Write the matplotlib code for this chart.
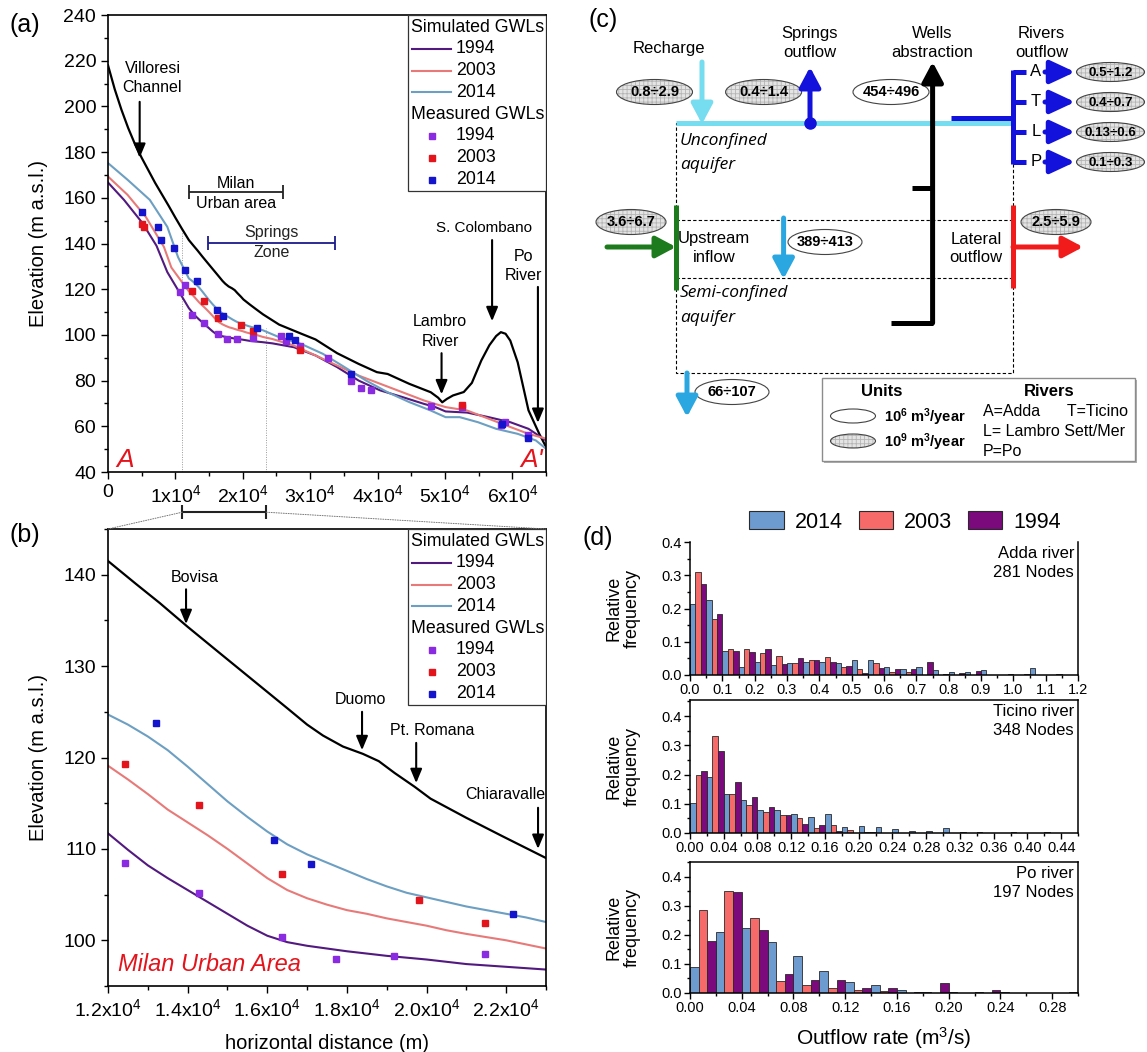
import numpy as np
import matplotlib
matplotlib.use('Agg')
import matplotlib.pyplot as plt
from matplotlib.patches import Ellipse, Rectangle, Patch, ConnectionPatch
from matplotlib.ticker import MultipleLocator, FuncFormatter, FormatStrFormatter

plt.rcParams['font.family'] = ['Liberation Sans', 'DejaVu Sans']
plt.rcParams['mathtext.fontset'] = 'custom'
plt.rcParams['mathtext.rm'] = 'Liberation Sans'
plt.rcParams['mathtext.bf'] = 'Liberation Sans:bold'
plt.rcParams['mathtext.it'] = 'Liberation Sans:italic'
plt.rcParams['mathtext.default'] = 'regular'
plt.rcParams['hatch.linewidth'] = 0.6

W, H = 1147, 1052

# ---------------- cross section A-A' (x in 1e3 m, elevation m a.s.l.)
years = ['1994', '2003', '2014']

ground_x = [0, 1, 2, 3, 4, 5, 6, 7, 8, 9, 10, 11, 12.0, 12.7, 13.3, 14.0, 14.7, 15.6, 16.5, 17.0,
            17.4, 17.9, 18.4, 18.8, 19.2, 19.7, 20.1, 21.0, 21.9, 23.0, 25.4, 28.7, 30.8, 34.0,
            37.2, 39.9, 41.5, 44.7, 47.9, 49.0, 49.6, 50.3, 51.2, 52.8, 54.0, 55.4, 56.6, 57.6,
            58.3, 59.0, 59.7, 60.8, 62.4, 64.0, 65.0]
ground_y = [218, 207.5, 198.5, 190.5, 183.5, 177.5, 172, 166.5, 161.5, 156.5, 151.3, 146.3, 141.5,
            139.0, 136.9, 134.3, 131.8, 128.6, 125.4, 123.6, 122.4, 121.2, 120.4, 119.6, 118.3,
            116.8, 115.5, 113.4, 111.4, 109.0, 104.5, 100.5, 98.0, 92.0, 87.3, 83.7, 82.9, 78.6,
            74.9, 72.5, 70.5, 72.0, 73.5, 75.0, 79.0, 88.8, 95.5, 99.5, 101.2, 100.5, 97.5, 88.0,
            67.0, 56.7, 51.0]

sim94_x = [0, 2.4, 5.1, 7.2, 8.8, 10.4, 12.0, 12.5, 13.0, 13.5, 14.0, 14.5, 15.0, 15.5, 16.0,
           16.5, 17.0, 18.0, 19.0, 20.0, 21.0, 22.0, 23.0, 24.4, 27.6, 30.8, 34.0, 37.2, 40.4,
           43.7, 46.9, 48.5, 50.1, 53.3, 56.5, 59.7, 62.4, 65.0]
sim94_y = [166.7, 159.0, 149.0, 139.0, 127.5, 119.6, 111.7, 109.9, 108.2, 106.8, 105.5, 104.2,
           102.9, 101.6, 100.5, 99.8, 99.4, 98.8, 98.3, 97.9, 97.4, 97.1, 96.8, 96.3, 94.6, 91.0,
           85.9, 80.0, 75.7, 72.8, 69.8, 68.5, 66.5, 66.0, 64.0, 61.8, 58.9, 53.8]

sim03_x = [0, 2.9, 5.6, 8.3, 9.4, 11.5, 12.0, 12.5, 13.0, 13.5, 14.0, 14.5, 15.0, 15.5, 16.0,
           16.5, 17.0, 17.5, 18.0, 18.5, 19.0, 19.5, 20.0, 20.5, 21.0, 22.0, 23.0, 24.4, 27.6,
           30.8, 34.0, 37.2, 40.4, 43.7, 46.9, 50.1, 53.3, 56.5, 59.7, 62.4, 65.0]
sim03_y = [169.3, 161.3, 151.7, 138.5, 129.5, 121.0, 119.1, 117.6, 116.0, 114.3, 112.9, 111.5,
           110.0, 108.4, 106.8, 105.5, 104.6, 103.9, 103.3, 102.9, 102.4, 102.0, 101.6, 101.1,
           100.7, 100.0, 99.1, 98.2, 95.3, 91.0, 86.6, 82.2, 78.6, 74.9, 71.3, 68.4, 66.9, 63.3,
           59.7, 56.7, 54.6]

sim14_x = [0, 2.9, 6.2, 8.8, 10.4, 12.0, 12.5, 13.0, 13.5, 14.0, 14.5, 15.0, 15.5, 16.0, 16.5,
           17.0, 17.5, 18.0, 18.5, 19.0, 19.5, 20.0, 20.5, 21.0, 21.5, 22.0, 22.5, 23.0, 25.4,
           28.7, 31.9, 35.1, 38.3, 41.5, 44.7, 47.9, 50.1, 52.2, 54.9, 57.6, 60.8, 63.5, 65.0]
sim14_y = [175.2, 167.9, 159.1, 147.3, 134.0, 124.7, 123.6, 122.3, 120.8, 119.0, 117.1, 115.2,
           113.5, 111.9, 110.5, 109.4, 108.5, 107.6, 106.7, 105.9, 105.2, 104.7, 104.2, 103.7,
           103.3, 102.9, 102.5, 102.0, 99.0, 96.0, 91.7, 85.9, 80.0, 74.9, 70.6, 66.9, 64.0,
           64.0, 61.8, 58.9, 56.7, 53.8, 50.2]

meas94_x = [10.7, 11.5, 12.43, 14.28, 16.36, 17.72, 19.18, 21.46, 25.7, 26.4, 28.5, 32.7, 36.0,
            37.5, 39.0, 47.9, 52.5, 58.3, 58.9, 62.3]
meas94_y = [118.6, 122.0, 108.5, 105.2, 100.4, 98.0, 98.3, 98.5, 99.7, 97.5, 95.3, 89.9, 80.0,
            76.8, 76.1, 69.1, 68.5, 60.5, 61.8, 56.0]
meas03_x = [5.0, 5.4, 12.43, 14.28, 16.36, 19.8, 21.46, 28.5, 52.5]
meas03_y = [148.5, 147.3, 119.3, 114.8, 107.3, 104.4, 101.9, 93.6, 69.3]
meas14_x = [5.0, 7.4, 7.9, 9.8, 11.4, 13.2, 16.18, 17.1, 22.18, 26.9, 27.7, 36.0, 58.5, 62.4]
meas14_y = [153.6, 147.3, 141.6, 138.2, 128.5, 123.8, 111.0, 108.3, 102.9, 99.4, 97.8, 82.7,
            61.0, 54.8]

sim_x = [sim94_x, sim03_x, sim14_x]
sim_y = [sim94_y, sim03_y, sim14_y]
meas_x = [meas94_x, meas03_x, meas14_x]
meas_y = [meas94_y, meas03_y, meas14_y]
sim_colors = ['#52197f', '#e77a78', '#6d9fc2']
meas_colors = ['#8a2be2', '#e3141b', '#1414cc']

# ---------------- water budget (c)
budget_10e9 = {'recharge': '0.8÷2.9', 'springs': '0.4÷1.4', 'upstream': '3.6÷6.7',
               'lateral': '2.5÷5.9'}
budget_10e6 = {'wells': '454÷496', 'leakage': '389÷413', 'bottom': '66÷107'}
river_codes = ['A', 'T', 'L', 'P']
river_out = ['0.5÷1.2', '0.4÷0.7', '0.13÷0.6', '0.1÷0.3']

# ---------------- histograms (d): relative frequency, bars 2014 / 2003 / 1994
hist_years = ['2014', '2003', '1994']
hist_colors = ['#6d9bd0', '#f76a6a', '#7b0a7c']
adda_bin = 0.05
adda_2014 = [0.215, 0.226, 0.071, 0.025, 0.038, 0.030, 0.035, 0.038, 0.038, 0.035, 0.044, 0.044,
             0.024, 0.019, 0.024, 0.014, 0.010, 0.010, 0.014, 0, 0, 0.020, 0, 0]
adda_2003 = [0.309, 0.167, 0.078, 0.078, 0.065, 0.058, 0.037, 0.044, 0.054, 0.024, 0.017, 0.037,
             0.010, 0.010, 0, 0, 0, 0, 0, 0, 0, 0, 0, 0]
adda_1994 = [0.273, 0.184, 0.073, 0.068, 0.078, 0.032, 0.052, 0.044, 0.038, 0.028, 0.005, 0.022,
             0.017, 0.017, 0.038, 0.004, 0.005, 0.011, 0, 0.002, 0.002, 0, 0.002, 0]
ticino_bin = 0.02
ticino_2014 = [0.103, 0.190, 0.135, 0.112, 0.080, 0.077, 0.065, 0.056, 0.065, 0.019, 0.025, 0.020,
               0.012, 0.008, 0.008, 0.016, 0.003, 0.003, 0, 0.003, 0, 0.003, 0]
ticino_2003 = [0.198, 0.333, 0.135, 0.097, 0.072, 0.063, 0.050, 0.017, 0.026, 0.011, 0.004, 0,
               0, 0, 0, 0, 0, 0, 0, 0, 0, 0, 0]
ticino_1994 = [0.211, 0.280, 0.175, 0.122, 0.089, 0.060, 0.032, 0.026, 0.006, 0, 0.004, 0,
               0, 0, 0, 0, 0, 0, 0, 0, 0, 0, 0]
po_bin = 0.02
po_2014 = [0.089, 0.210, 0.225, 0.176, 0.126, 0.077, 0.039, 0.026, 0.010, 0.005, 0.005, 0.005,
           0.005, 0, 0]
po_2003 = [0.286, 0.350, 0.258, 0.040, 0.027, 0.016, 0.012, 0.006, 0, 0, 0, 0, 0, 0, 0]
po_1994 = [0.178, 0.347, 0.218, 0.065, 0.045, 0.045, 0.018, 0.018, 0.005, 0.034, 0, 0.012, 0, 0,
           0.005]

fig = plt.figure(figsize=(W / 100, H / 100), dpi=100)
ov = fig.add_axes([0, 0, 1, 1])
ov.set_xlim(0, W)
ov.set_ylim(H, 0)
ov.axis('off')


def px_axes(l, t, r, b):
    return fig.add_axes([l / W, 1 - b / H, (r - l) / W, (b - t) / H])


def style_ticks(ax, size):
    ax.tick_params(which='major', direction='out', length=5, width=1, labelsize=size)
    ax.tick_params(which='minor', direction='out', length=3, width=1)
    for s in ax.spines.values():
        s.set_linewidth(1.2)


def draw_section(ax):
    ax.plot(np.array(ground_x) * 1e3, ground_y, color='k', lw=1.6)
    for xs, ys, c in zip(sim_x, sim_y, sim_colors):
        ax.plot(np.array(xs) * 1e3, ys, color=c, lw=1.5)
    for xs, ys, c in zip(meas_x, meas_y, meas_colors):
        ax.plot(np.array(xs) * 1e3, ys, 's', color=c, ms=4.5, ls='none', zorder=4)


def gwl_legend(ax):
    ax.add_patch(Rectangle((0.684, 0.614), 0.316, 0.386, transform=ax.transAxes, fc='white',
                           ec='#333333', lw=0.9, zorder=5))
    rows = [0.972, 0.926, 0.878, 0.831, 0.783, 0.736, 0.688, 0.640]
    ax.text(0.692, rows[0], 'Simulated GWLs', transform=ax.transAxes, va='center', fontsize=12.8, zorder=6)
    ax.text(0.692, rows[4], 'Measured GWLs', transform=ax.transAxes, va='center', fontsize=12.8, zorder=6)
    for r, lab, c in zip(rows[1:4], years, sim_colors):
        ax.plot([0.694, 0.784], [r, r], transform=ax.transAxes, color=c, lw=1.5, zorder=6)
        ax.text(0.794, r, lab, transform=ax.transAxes, va='center', fontsize=12.8, zorder=6)
    for r, lab, c in zip(rows[5:], years, meas_colors):
        ax.plot([0.740], [r], 's', transform=ax.transAxes, color=c, ms=4.5, zorder=6)
        ax.text(0.794, r, lab, transform=ax.transAxes, va='center', fontsize=12.8, zorder=6)


def down_arrow(ax, x, y0, y1, lw=1.5):
    ax.annotate('', xy=(x, y1), xytext=(x, y0),
                arrowprops=dict(arrowstyle='-|>,head_length=0.6,head_width=0.25', color='k', lw=lw,
                                mutation_scale=14, shrinkA=0, shrinkB=0))


# ================= (a)
ax_a = px_axes(108, 15, 546, 472)
draw_section(ax_a)
ax_a.set_xlim(0, 6.5e4)
ax_a.set_ylim(40, 240)
ax_a.xaxis.set_major_locator(MultipleLocator(1e4))
ax_a.xaxis.set_minor_locator(MultipleLocator(5e3))
ax_a.yaxis.set_major_locator(MultipleLocator(20))
ax_a.yaxis.set_minor_locator(MultipleLocator(10))
ax_a.xaxis.set_major_formatter(FuncFormatter(
    lambda v, p: '0' if v == 0 else r'$\mathdefault{%dx10^{4}}$' % round(v / 1e4)))
style_ticks(ax_a, 14)
ax_a.set_ylabel('Elevation (m a.s.l.)', fontsize=14.5, labelpad=11)
gwl_legend(ax_a)
for xv, ytop in [(11.0e3, 145), (23.5e3, 103)]:
    ax_a.plot([xv, xv], [40, ytop], color='#999999', lw=0.7, ls=(0, (1, 1.5)), zorder=1)

ax_a.text(6.6e3, 212.5, 'Villoresi\nChannel', ha='center', va='center', fontsize=11.5, linespacing=1.3)
down_arrow(ax_a, 4.7e3, 202, 177.5)
ax_a.text(19.0e3, 162, 'Milan\nUrban area', ha='center', va='center', fontsize=11.5, linespacing=1.45)
ax_a.errorbar(19.0e3, 162.7, xerr=7.0e3, color='#222222', lw=1.3, capsize=5, capthick=1.3)
ax_a.text(24.3e3, 140.5, 'Springs\nZone', ha='center', va='center', fontsize=11.5, linespacing=1.45,
          color='#222222')
ax_a.errorbar(24.3e3, 140.3, xerr=9.4e3, color='#1a1a8c', lw=1.3, capsize=5, capthick=1.3)
ax_a.text(55.8e3, 147, 'S. Colombano', ha='center', va='center', fontsize=11)
down_arrow(ax_a, 57.0e3, 141.5, 106)
ax_a.text(61.6e3, 130, 'Po\nRiver', ha='center', va='center', fontsize=11.5, linespacing=1.35)
down_arrow(ax_a, 63.8e3, 121, 61.5)
ax_a.text(49.3e3, 101.5, 'Lambro\nRiver', ha='center', va='center', fontsize=11.5, linespacing=1.35)
down_arrow(ax_a, 49.5e3, 92, 74)
ax_a.text(1.2e3, 42, 'A', color='#e3141b', fontsize=19, style='italic', ha='left', va='baseline')
ax_a.text(64.6e3, 42, "A'", color='#e3141b', fontsize=19, style='italic', ha='right', va='baseline')

# zoom bracket under (a)
ax_a.errorbar(17.25e3, -0.088, xerr=6.25e3, transform=ax_a.get_xaxis_transform(), color='#222222',
              lw=1.5, capsize=5, capthick=1.5, clip_on=False)

# ================= (b)
ax_b = px_axes(108, 529, 546, 986)
draw_section(ax_b)
ax_b.set_xlim(1.2e4, 2.3e4)
ax_b.set_ylim(95, 145)
ax_b.xaxis.set_major_locator(MultipleLocator(2e3))
ax_b.xaxis.set_minor_locator(MultipleLocator(1e3))
ax_b.yaxis.set_major_locator(MultipleLocator(10))
ax_b.yaxis.set_minor_locator(MultipleLocator(5))
ax_b.xaxis.set_major_formatter(FuncFormatter(lambda v, p: r'$\mathdefault{%.1fx10^{4}}$' % (v / 1e4)))
style_ticks(ax_b, 14)
ax_b.set_ylabel('Elevation (m a.s.l.)', fontsize=14.5, labelpad=11)
ax_b.set_xlabel('horizontal distance (m)', fontsize=14.5, labelpad=10)
gwl_legend(ax_b)
ax_b.text(14.17e3, 139.7, 'Bovisa', ha='center', va='center', fontsize=11.5)
down_arrow(ax_b, 13.96e3, 138.4, 134.6)
ax_b.text(18.33e3, 126.3, 'Duomo', ha='center', va='center', fontsize=11.5)
down_arrow(ax_b, 18.38e3, 125.0, 120.8)
ax_b.text(20.13e3, 122.9, 'Pt. Romana', ha='center', va='center', fontsize=11.5)
down_arrow(ax_b, 19.74e3, 121.6, 117.2)
ax_b.text(21.98e3, 116.0, 'Chiaravalle', ha='center', va='center', fontsize=11.5)
down_arrow(ax_b, 22.8e3, 114.5, 110.0)
ax_b.text(12.25e3, 97.3, 'Milan Urban Area', color='#e3141b', fontsize=17, style='italic',
          ha='left', va='center')

for xa, xb in [(11.0e3, 0.0), (23.5e3, 1.0)]:
    con = ConnectionPatch(xyA=(xa, -0.088), coordsA=ax_a.get_xaxis_transform(),
                          xyB=(xb, 1.0), coordsB=ax_b.transAxes, color='#777777', lw=0.7,
                          ls=(0, (1, 1.5)))
    fig.add_artist(con)

# ================= (c) flow diagram, drawn on the overlay in pixel space
CY, BL, LB, GR, RD = '#76dcef', '#1212dc', '#2aa7e0', '#1d7a1d', '#f21b1b'


def arr(x0, y0, x1, y1, c, lw=3.6, ms=20, hl=0.6, hw=0.32):
    ov.annotate('', xy=(x1, y1), xytext=(x0, y0),
                arrowprops=dict(arrowstyle='-|>,head_length=%g,head_width=%g' % (hl, hw), color=c,
                                lw=lw, mutation_scale=ms, shrinkA=0, shrinkB=0))


def oval(x, y, txt, gray, w=76, h=25, fs=10.5):
    if gray:
        ov.add_patch(Ellipse((x, y), w, h, fc='#e4e4e4', ec='#b5b5b5', lw=0, hatch='++++'))
        ov.add_patch(Ellipse((x, y), w, h, fill=False, ec='#444444', lw=0.8))
    else:
        ov.add_patch(Ellipse((x, y), w, h, fc='white', ec='#444444', lw=0.8))
    if txt:
        ov.text(x, y + 0.5, txt, ha='center', va='center', fontsize=fs, fontweight='bold')


DASH = (0, (3, 2))
ov.plot([676, 1013], [123, 123], color=CY, lw=3.6, solid_capstyle='butt')
ov.add_patch(Rectangle((676, 123), 337, 250, fill=False, ec='k', lw=0.8, ls=DASH))
for yy in (220, 278):
    ov.plot([676, 1013], [yy, yy], color='k', lw=0.8, ls=DASH)

ov.text(603, 20, '(c)', fontsize=18, ha='center', va='center')
ov.text(669, 49, 'Recharge', fontsize=12, ha='center', va='center')
arr(702, 62, 702, 124, CY)
oval(654.5, 92, budget_10e9['recharge'], True)

ov.text(810, 43, 'Springs\noutflow', fontsize=12, ha='center', va='center', linespacing=1.3)
arr(810, 123, 810, 67, BL)
ov.plot([810], [123], 'o', color=BL, ms=8)
oval(763.6, 92, budget_10e9['springs'], True)

ov.text(932.6, 43, 'Wells\nabstraction', fontsize=12, ha='center', va='center', linespacing=1.3)
arr(932.6, 323, 932.6, 62, 'k')
ov.plot([891, 932.6], [323, 323], color='k', lw=3.6, solid_capstyle='butt')
ov.plot([912, 932.6], [188, 188], color='k', lw=3.6, solid_capstyle='butt')
oval(891, 92, budget_10e6['wells'], False)

ov.text(1041.6, 43, 'Rivers\noutflow', fontsize=12, ha='center', va='center', linespacing=1.3)
ov.plot([951, 1013], [118, 118], color=BL, lw=3.6, solid_capstyle='butt')
ov.plot([1013, 1013], [70, 164], color=BL, lw=3.6, solid_capstyle='butt')
for code, val, yy in zip(river_codes, river_out, [72, 102, 132, 162]):
    ov.plot([1013, 1026], [yy, yy], color=BL, lw=3.6, solid_capstyle='butt')
    ov.text(1036, yy, code, fontsize=12, ha='center', va='center')
    arr(1045, yy, 1075, yy, BL, ms=20, hl=0.75, hw=0.35)
    oval(1110.5, yy, val, True, w=68, h=19, fs=9.5)

ov.text(680, 141, 'Unconfined', fontsize=12.5, style='italic', ha='left', va='center', family='Open Sans')
ov.text(680, 165, 'aquifer', fontsize=12.5, style='italic', ha='left', va='center', family='Open Sans')
ov.text(680, 293, 'Semi-confined', fontsize=12.5, style='italic', ha='left', va='center', family='Open Sans')
ov.text(680, 318, 'aquifer', fontsize=12.5, style='italic', ha='left', va='center', family='Open Sans')

ov.plot([676, 676], [205, 290], color=GR, lw=3.6, solid_capstyle='butt')
arr(607, 247, 676, 247, GR)
oval(631, 222, budget_10e9['upstream'], True, w=70)
ov.text(714, 248, 'Upstream\ninflow', fontsize=12, ha='center', va='center', linespacing=1.25)

arr(783.6, 218, 783.6, 279, LB)
oval(825, 242, budget_10e6['leakage'], False, w=74)

ov.plot([1013, 1013], [205, 288], color=RD, lw=3.6, solid_capstyle='butt')
arr(1013, 247, 1083, 247, RD)
oval(1056, 222, budget_10e9['lateral'], True, w=70)
ov.text(976, 248, 'Lateral\noutflow', fontsize=12, ha='center', va='center', linespacing=1.25)

arr(687, 373, 687, 417, LB)
oval(732, 392, budget_10e6['bottom'], False, w=74)

ov.add_patch(Rectangle((824, 380), 313, 83, fc='#b0b0b0', ec='none'))
ov.add_patch(Rectangle((821.5, 377.5), 313, 83, fc='white', ec='#8c8c8c', lw=1.0))
ov.text(882, 392, 'Units', fontsize=12, fontweight='bold', ha='center', va='center')
ov.text(1049, 392, 'Rivers', fontsize=12, fontweight='bold', ha='center', va='center')
oval(853, 416, '', False, w=45, h=14)
oval(853, 441, '', True, w=45, h=14)
ov.text(884, 417, r'$\mathbf{10^{6}\ m^{3}/year}$', fontsize=10.5, ha='left', va='center')
ov.text(884, 442, r'$\mathbf{10^{9}\ m^{3}/year}$', fontsize=10.5, ha='left', va='center')
ov.text(983, 411, 'A=Adda      T=Ticino', fontsize=11.5, ha='left', va='center')
ov.text(983, 431, 'L= Lambro Sett/Mer', fontsize=11.5, ha='left', va='center')
ov.text(983, 451, 'P=Po', fontsize=11.5, ha='left', va='center')

# ================= (d) histograms
ov.text(598, 538, '(d)', fontsize=18, ha='center', va='center')


def hist_panel(ax, binw, series, xmax, major, fmt, ytop, title, nodes):
    n = len(series[0])
    left = np.arange(n) * binw
    for k, (vals, c) in enumerate(zip(series, hist_colors)):
        ax.bar(left + k * binw / 3, vals, width=binw / 3, align='edge', color=c, ec='#2a2a2a', lw=0.6)
    ax.set_xlim(0, xmax)
    ax.set_ylim(0, ytop)
    ax.xaxis.set_major_locator(MultipleLocator(major))
    ax.xaxis.set_minor_locator(MultipleLocator(major / 2))
    ax.xaxis.set_major_formatter(FormatStrFormatter(fmt))
    ax.yaxis.set_major_locator(MultipleLocator(0.1))
    ax.yaxis.set_minor_locator(MultipleLocator(0.05))
    ax.yaxis.set_major_formatter(FormatStrFormatter('%.1f'))
    ax.tick_params(which='major', direction='out', length=4, width=1, labelsize=10.5, pad=2)
    ax.tick_params(which='minor', direction='out', length=2.5, width=1)
    for s in ax.spines.values():
        s.set_linewidth(1.1)
    ax.set_ylabel('Relative\nfrequency', fontsize=13, linespacing=1.1, labelpad=15)
    ax.text(0.99, 0.97, title + '\n' + nodes, transform=ax.transAxes, ha='right', va='top',
            fontsize=12, linespacing=1.3)


ax_d1 = px_axes(690, 542, 1078, 675)
hist_panel(ax_d1, adda_bin, [adda_2014, adda_2003, adda_1994], 1.2, 0.1, '%.1f', 0.4,
           'Adda river', '281 Nodes')
ax_d1.spines['top'].set_visible(False)
ax_d2 = px_axes(690, 700, 1078, 833)
hist_panel(ax_d2, ticino_bin, [ticino_2014, ticino_2003, ticino_1994], 0.46, 0.04, '%.2f', 0.455,
           'Ticino river', '348 Nodes')
ax_d3 = px_axes(690, 862, 1078, 993)
hist_panel(ax_d3, po_bin, [po_2014, po_2003, po_1994], 0.30, 0.04, '%.2f', 0.45,
           'Po river', '197 Nodes')
ax_d3.set_xlabel('Outflow rate (m$^{3}$/s)', fontsize=15, labelpad=7)

handles = [Patch(fc=c, ec='#2a2a2a', lw=0.8) for c in hist_colors]
fig.legend(handles, hist_years, ncol=3, loc='center', bbox_to_anchor=(905 / W, 1 - 522 / H),
           frameon=False, fontsize=15.5, handlelength=1.6, handleheight=0.9, columnspacing=0.75,
           handletextpad=0.5)

ov.text(25, 25, '(a)', fontsize=18, ha='center', va='center')
ov.text(25, 535, '(b)', fontsize=18, ha='center', va='center')

fig.savefig('out.png', dpi=100)
